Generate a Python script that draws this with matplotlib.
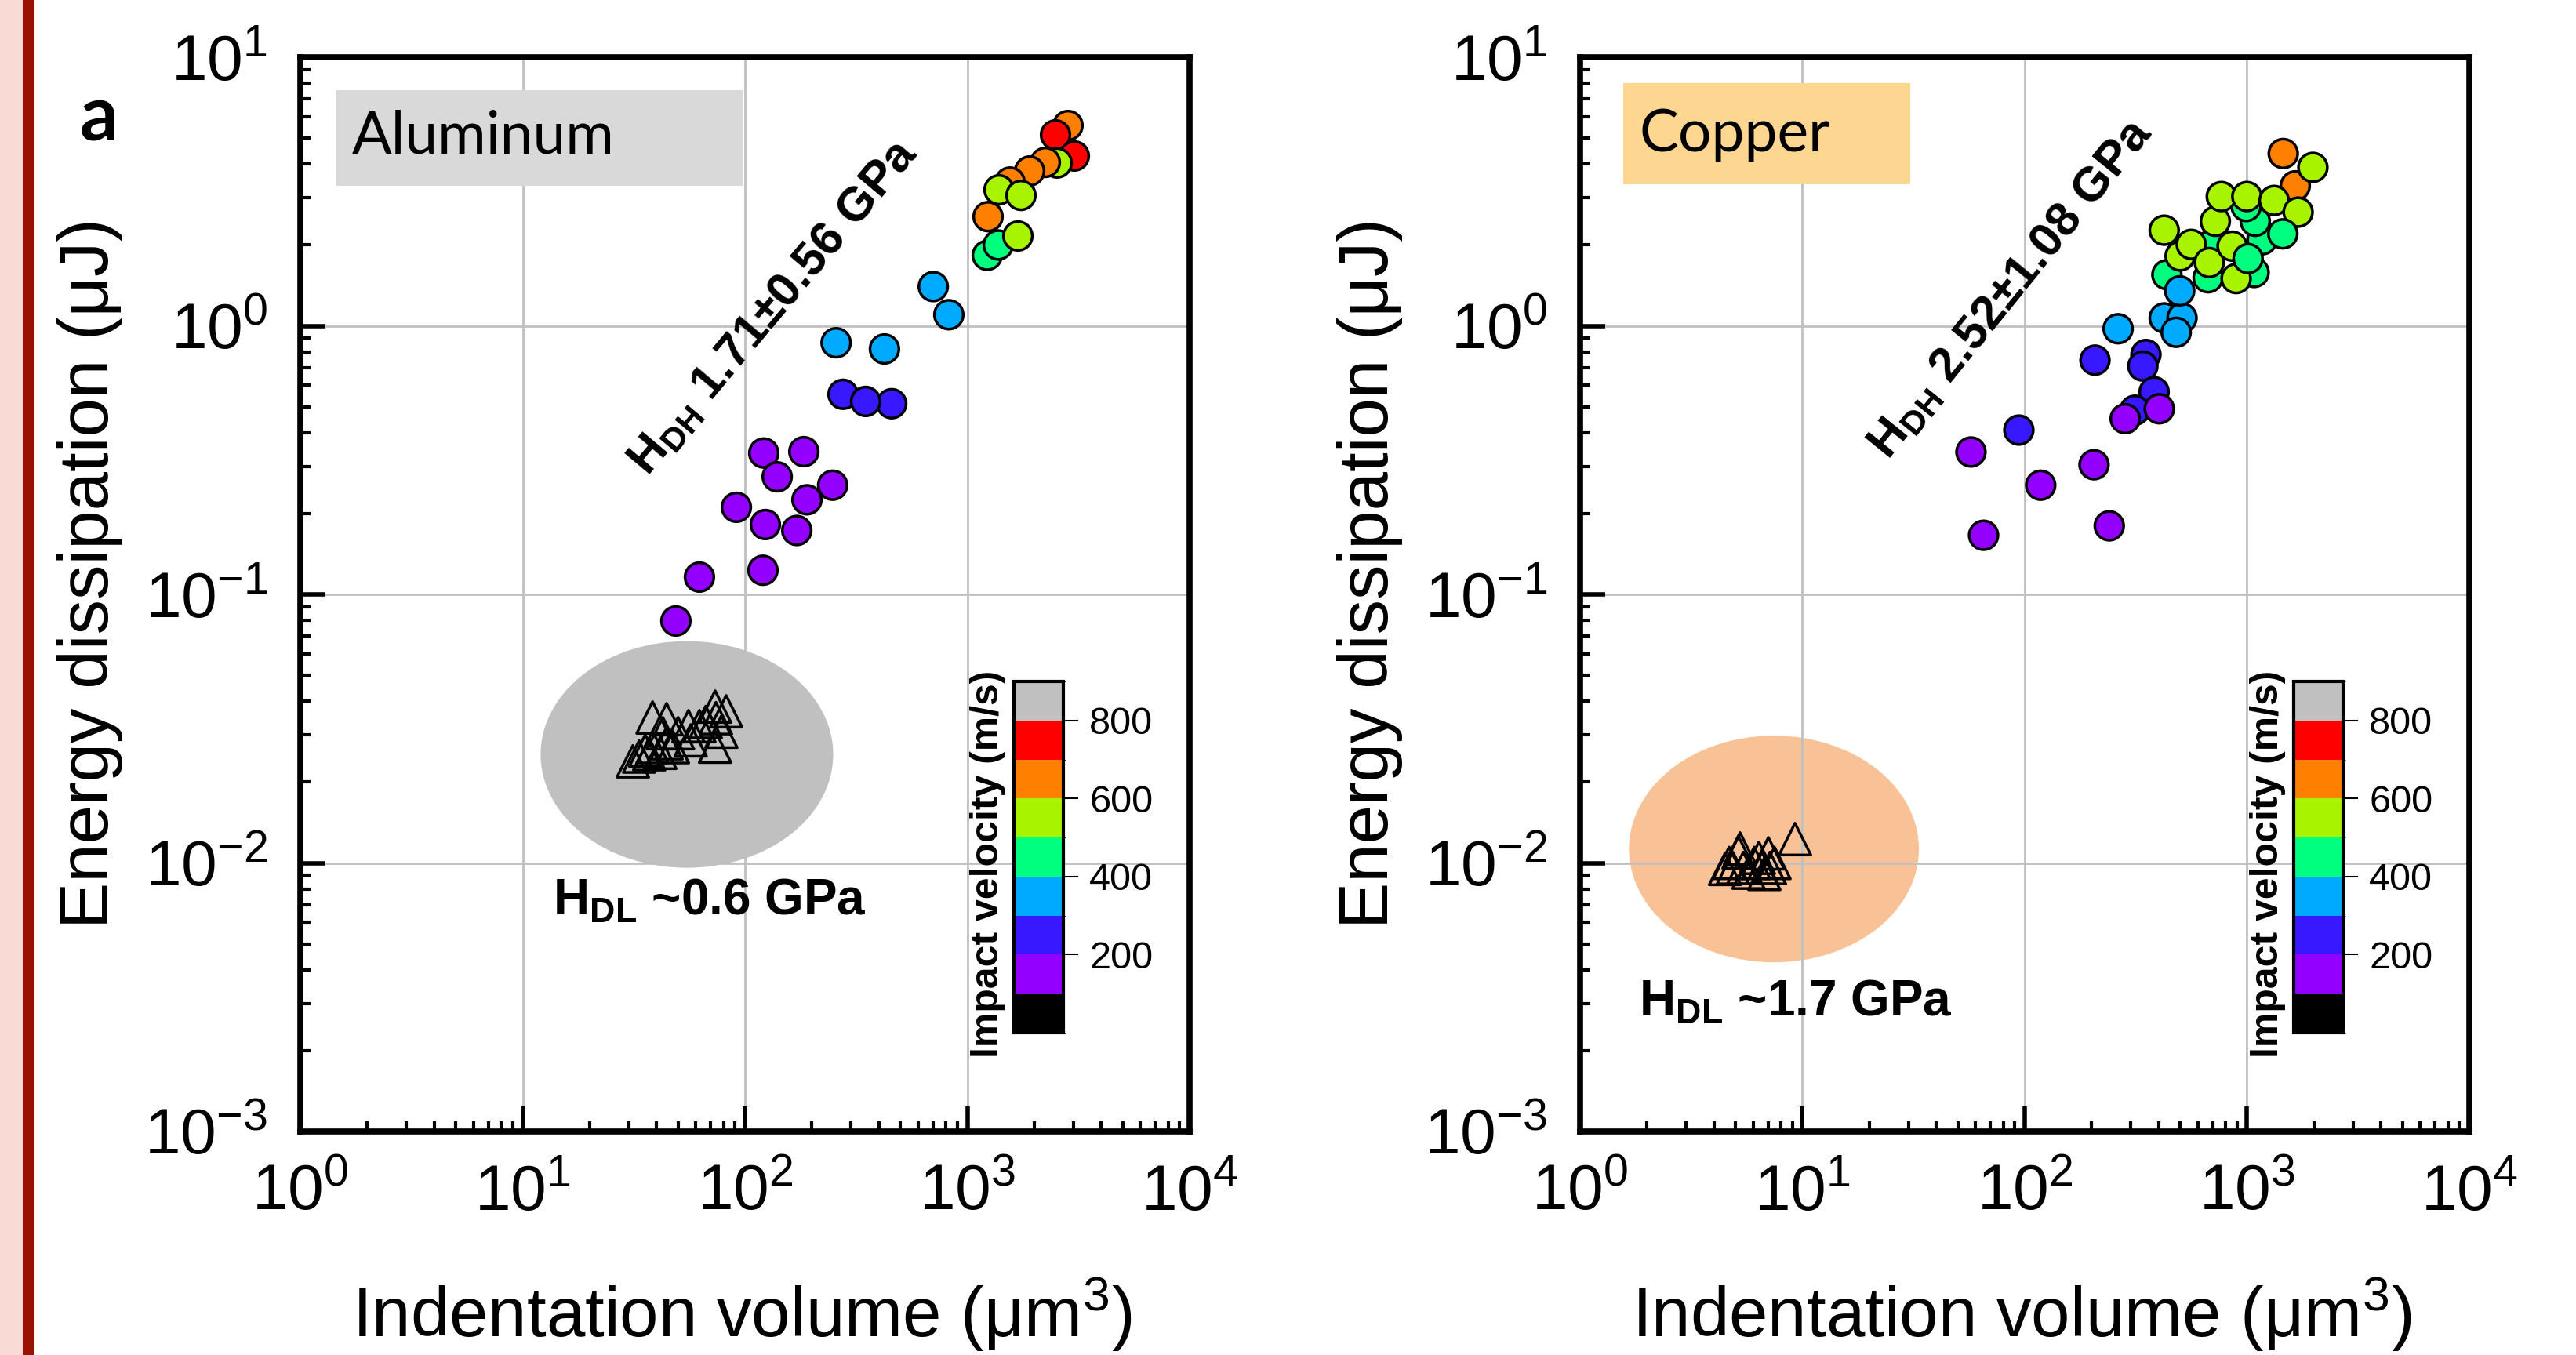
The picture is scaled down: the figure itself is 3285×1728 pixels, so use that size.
import numpy as np
import matplotlib.pyplot as plt
from matplotlib.colors import ListedColormap, BoundaryNorm
from matplotlib.patches import Ellipse, Rectangle
from matplotlib.ticker import LogLocator, NullFormatter

plt.rcParams['font.family'] = ['Liberation Sans', 'DejaVu Sans']
plt.rcParams['mathtext.fontset'] = 'custom'
plt.rcParams['mathtext.rm'] = 'Liberation Sans'
plt.rcParams['mathtext.bf'] = 'Liberation Sans:bold'
plt.rcParams['mathtext.it'] = 'Liberation Sans:italic'
plt.rcParams['mathtext.default'] = 'regular'

# velocity colour scale (m/s)
vel_bounds = [0, 100, 200, 300, 400, 500, 600, 700, 800, 900]
vel_colors = ['#000000', '#9400FF', '#3718FF', '#00AAFF', '#00FF7F',
              '#A8F400', '#FF7F00', '#FF0000', '#C0C0C0']
vel_ticks = [200, 400, 600, 800]

# Aluminum - high rate (circles)
al_vol = [48.9, 62.4, 120.5, 91.5, 123.5, 171, 248, 190, 121.5, 139.6, 184,
          276, 457, 349,
          257, 424, 703, 826,
          2838, 2494, 3030, 2535, 2244, 1907, 1556, 1389, 1744, 1240, 1230, 1378, 1689]
al_en = [0.0796, 0.116, 0.123, 0.211, 0.182, 0.173, 0.255, 0.225, 0.336, 0.274, 0.340,
         0.556, 0.513, 0.523,
         0.865, 0.820, 1.40, 1.10,
         5.57, 5.14, 4.29, 4.04, 4.06, 3.77, 3.43, 3.21, 3.06, 2.55, 1.83, 2.00, 2.16]
al_vel = [150] * 11 + [250] * 3 + [350] * 4 + \
         [650, 750, 750, 550, 650, 650, 650, 550, 550, 650, 450, 450, 550]

# Aluminum - low rate (triangles)
al_lo_vol = [38.4, 44.4, 55.7, 62.4, 73.4, 82.3, 74.0, 78.3, 73.4, 31.3, 33.4,
             35.6, 38.4, 41.6, 44.4, 47.4, 37.1, 42.7, 50.0, 66.6, 57.0]
al_lo_en = [0.0348, 0.0343, 0.0323, 0.0323, 0.0382, 0.0367, 0.0346, 0.0308, 0.0271, 0.0239, 0.0249,
            0.0262, 0.0270, 0.0257, 0.0279, 0.0270, 0.0254, 0.0304, 0.0304, 0.0335, 0.0286]

# Copper - high rate (circles)
cu_vol = [94.1, 207, 351, 340, 382, 313,
          57.3, 65.3, 118, 205, 240, 283, 403,
          436, 668, 682, 1076, 1169, 1089, 991,
          1455, 1648,
          424, 500, 561, 676, 720, 766, 857, 893, 998, 1324, 1697, 1978,
          1011, 1449,
          263, 424, 510, 480, 498]
cu_en = [0.409, 0.745, 0.782, 0.708, 0.568, 0.485,
         0.339, 0.166, 0.255, 0.304, 0.180, 0.451, 0.491,
         1.55, 1.51, 1.99, 1.58, 2.09, 2.45, 2.78,
         4.38, 3.32,
         2.27, 1.82, 2.01, 1.72, 2.45, 3.03, 1.98, 1.50, 3.03, 2.93, 2.65, 3.89,
         1.78, 2.20,
         0.975, 1.07, 1.07, 0.946, 1.35]
cu_vel = [250] * 6 + [150] * 7 + [450] * 7 + [650] * 2 + [550] * 12 + [450] * 2 + [350] * 5

# Copper - low rate (triangles)
cu_lo_vol = [9.26, 5.24, 7.03, 4.87, 5.42, 6.07, 6.58, 7.14, 4.68, 4.49, 5.16, 6.37, 7.49, 5.72, 6.74]
cu_lo_en = [0.01227, 0.01132, 0.01086, 0.00958, 0.00958, 0.0100, 0.00958, 0.00958, 0.0100, 0.0095,
            0.01094, 0.01045, 0.0100, 0.0092, 0.0091]

cmap = ListedColormap(vel_colors)
norm = BoundaryNorm(vel_bounds, cmap.N)

fig = plt.figure(figsize=(32.85, 17.28), dpi=100)

# left strip
fig.add_artist(Rectangle((0, 0), 0.0088, 1, transform=fig.transFigure, color='#F9DAD4', lw=0))
fig.add_artist(Rectangle((0.0088, 0), 0.0043, 1, transform=fig.transFigure, color='#9B1300', lw=0))
fig.text(0.0384, 0.913, 'a', fontsize=70, fontweight='bold', family='Lato', ha='center', va='center')

ax1 = fig.add_axes([0.11659, 0.16493, 0.34521, 0.79282])
ax2 = fig.add_axes([0.61339, 0.16493, 0.34521, 0.79282])
cax1 = fig.add_axes([0.3936, 0.23785, 0.01918, 0.25926])
cax2 = fig.add_axes([0.89041, 0.23785, 0.01918, 0.25926])


def style(ax):
    ax.set_xscale('log')
    ax.set_yscale('log')
    ax.set_xlim(1, 1e4)
    ax.set_ylim(1e-3, 1e1)
    for axis in (ax.xaxis, ax.yaxis):
        axis.set_major_locator(LogLocator(base=10, numticks=20))
        axis.set_minor_locator(LogLocator(base=10, subs=np.arange(2, 10), numticks=100))
        axis.set_minor_formatter(NullFormatter())
    ax.set_axisbelow(True)
    ax.grid(True, which='major', color='#C0C0C0', lw=2)
    ax.tick_params(which='major', direction='in', length=23, width=4, labelsize=59, pad=30)
    ax.tick_params(which='minor', direction='in', length=9.5, width=3)
    for sp in ax.spines.values():
        sp.set_linewidth(5.5)
    ax.text(0.497, -0.17, 'Indentation volume (μm$^{3}$)', transform=ax.transAxes,
            fontsize=64, ha='center', va='center')
    ax.text(-0.236, 0.52, 'Energy dissipation (μJ)', transform=ax.transAxes,
            fontsize=64, ha='center', va='center', rotation=90)


def add_cbar(sc, cax):
    cb = fig.colorbar(sc, cax=cax, ticks=vel_ticks)
    cb.outline.set_linewidth(3)
    cax.tick_params(direction='out', length=14, width=1.5, labelsize=35, pad=10)
    cax.text(-0.52, 0.48, 'Impact velocity (m/s)', transform=cax.transAxes, rotation=90,
             ha='center', va='center', fontsize=36, fontweight='bold')


# Aluminum panel
style(ax1)
ax1.add_patch(Rectangle((0.040, 0.880), 0.458, 0.089, transform=ax1.transAxes,
                        color='#D9D9D9', lw=0, zorder=2))
ax1.text(0.0582, 0.926, 'Aluminum', transform=ax1.transAxes, fontsize=54, family='Lato',
         ha='left', va='center', zorder=3)
ax1.add_patch(Ellipse((0.4347, 0.351), 0.329, 0.211, transform=ax1.transAxes,
                      color='#C0C0C0', lw=0, zorder=1))
ax1.scatter(al_lo_vol, al_lo_en, marker='^', s=850, facecolors='none', edgecolors='black',
            linewidths=2.5, zorder=3)
sc1 = ax1.scatter(al_vol, al_en, c=al_vel, cmap=cmap, norm=norm, s=700,
                  edgecolors='black', linewidths=2.5, zorder=4)
ax1.text(0.533, 0.767, r'$H_{DH}$ 1.71±0.56 GPa', transform=ax1.transAxes, rotation=50,
         fontsize=44, fontweight='bold', ha='center', va='center', zorder=5)
ax1.text(0.460, 0.214, r'$H_{DL}$ ~0.6 GPa', transform=ax1.transAxes,
         fontsize=46, fontweight='bold', ha='center', va='center', zorder=5)
add_cbar(sc1, cax1)

# Copper panel
style(ax2)
ax2.add_patch(Rectangle((0.0485, 0.882), 0.3225, 0.094, transform=ax2.transAxes,
                        color='#FDD792', lw=0, zorder=2))
ax2.text(0.067, 0.928, 'Copper', transform=ax2.transAxes, fontsize=54, family='Lato',
         ha='left', va='center', zorder=3)
ax2.add_patch(Ellipse((0.218, 0.263), 0.326, 0.211, transform=ax2.transAxes,
                      color='#F8C196', lw=0, zorder=0.3))
ax2.scatter(cu_lo_vol, cu_lo_en, marker='^', s=850, facecolors='none', edgecolors='black',
            linewidths=2.5, zorder=3)
sc2 = ax2.scatter(cu_vol, cu_en, c=cu_vel, cmap=cmap, norm=norm, s=700,
                  edgecolors='black', linewidths=2.5, zorder=4)
ax2.text(0.485, 0.784, r'$H_{DH}$ 2.52±1.08 GPa', transform=ax2.transAxes, rotation=51,
         fontsize=44, fontweight='bold', ha='center', va='center', zorder=5)
ax2.text(0.2425, 0.120, r'$H_{DL}$ ~1.7 GPa', transform=ax2.transAxes,
         fontsize=46, fontweight='bold', ha='center', va='center', zorder=5)
add_cbar(sc2, cax2)

fig.savefig('out.png', dpi=100)
